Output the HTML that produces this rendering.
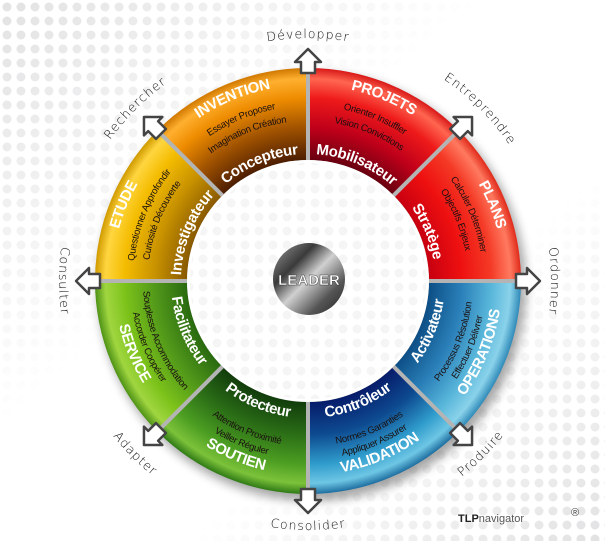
<!DOCTYPE html>
<html><head><meta charset="utf-8"><style>
html,body{margin:0;padding:0;background:#fff;width:605px;height:541px;overflow:hidden;}
svg{display:block;overflow:hidden;}
.t{font-family:"Liberation Sans Narrow","Liberation Sans",sans-serif;font-weight:bold;fill:#fff;letter-spacing:-0.4px;}
.s{font-family:"Liberation Sans Narrow","Liberation Sans",sans-serif;fill:#1a1010;font-size:9.6px;letter-spacing:-0.3px;}
.h{font-family:"DejaVu Sans","Liberation Sans",sans-serif;font-size:12.5px;fill:#111;letter-spacing:1px;font-weight:300;}
</style></head><body>
<svg width="605" height="541" viewBox="0 0 605 541" xmlns="http://www.w3.org/2000/svg">
<defs>
<clipPath id="frame"><rect width="605" height="541"/></clipPath>
<pattern id="dots" width="14" height="14" patternUnits="userSpaceOnUse"><circle cx="7" cy="7" r="4.5" fill="#d6d6d8"/></pattern>
<linearGradient id="fadeL" x1="0" y1="0" x2="1" y2="1"><stop offset="0" stop-color="#fff"/><stop offset="0.4" stop-color="#000"/><stop offset="0.65" stop-color="#000"/><stop offset="1" stop-color="#fff"/></linearGradient>
<mask id="bgm"><rect width="605" height="541" fill="url(#fadeL)"/></mask>
<radialGradient id="gProj" cx="308" cy="281" r="213" gradientUnits="userSpaceOnUse"><stop offset="0.57" stop-color="#6a0010"/><stop offset="0.72" stop-color="#c0001a"/><stop offset="0.86" stop-color="#ee1a1a"/><stop offset="0.95" stop-color="#ff6650"/><stop offset="1" stop-color="#d81818"/></radialGradient>
<radialGradient id="gPlan" cx="308" cy="281" r="213" gradientUnits="userSpaceOnUse"><stop offset="0.57" stop-color="#c80010"/><stop offset="0.72" stop-color="#ee1010"/><stop offset="0.86" stop-color="#f43a26"/><stop offset="0.95" stop-color="#ff7a60"/><stop offset="1" stop-color="#e02a1a"/></radialGradient>
<radialGradient id="gOper" cx="308" cy="281" r="213" gradientUnits="userSpaceOnUse"><stop offset="0.57" stop-color="#0d4f86"/><stop offset="0.72" stop-color="#2a7fb8"/><stop offset="0.86" stop-color="#58b6da"/><stop offset="0.95" stop-color="#8ad2ea"/><stop offset="1" stop-color="#2f8ab8"/></radialGradient>
<radialGradient id="gVal" cx="308" cy="281" r="213" gradientUnits="userSpaceOnUse"><stop offset="0.57" stop-color="#071c6a"/><stop offset="0.72" stop-color="#0d4a90"/><stop offset="0.86" stop-color="#2f9ccc"/><stop offset="0.95" stop-color="#6ec6e4"/><stop offset="1" stop-color="#1e6ea0"/></radialGradient>
<radialGradient id="gSout" cx="308" cy="281" r="213" gradientUnits="userSpaceOnUse"><stop offset="0.57" stop-color="#123d0c"/><stop offset="0.72" stop-color="#2a6d16"/><stop offset="0.86" stop-color="#4c9e22"/><stop offset="0.95" stop-color="#7cc23a"/><stop offset="1" stop-color="#2f7a16"/></radialGradient>
<radialGradient id="gServ" cx="308" cy="281" r="213" gradientUnits="userSpaceOnUse"><stop offset="0.57" stop-color="#2a6a10"/><stop offset="0.72" stop-color="#52991a"/><stop offset="0.86" stop-color="#7cc21a"/><stop offset="0.95" stop-color="#a0d640"/><stop offset="1" stop-color="#4e9216"/></radialGradient>
<radialGradient id="gEtu" cx="308" cy="281" r="213" gradientUnits="userSpaceOnUse"><stop offset="0.57" stop-color="#8a5a00"/><stop offset="0.72" stop-color="#c89200"/><stop offset="0.86" stop-color="#f4bc00"/><stop offset="0.95" stop-color="#ffd640"/><stop offset="1" stop-color="#d09a00"/></radialGradient>
<radialGradient id="gInv" cx="308" cy="281" r="213" gradientUnits="userSpaceOnUse"><stop offset="0.57" stop-color="#4e1e00"/><stop offset="0.72" stop-color="#a05200"/><stop offset="0.86" stop-color="#ee8c00"/><stop offset="0.95" stop-color="#ffb030"/><stop offset="1" stop-color="#d07800"/></radialGradient>
<linearGradient id="gLead" x1="0" y1="0" x2="1" y2="1"><stop offset="0" stop-color="#9a9a9a"/><stop offset="0.3" stop-color="#3a3a3a"/><stop offset="0.5" stop-color="#d0d0d0"/><stop offset="0.75" stop-color="#555"/><stop offset="1" stop-color="#222"/></linearGradient>
<filter id="sh" x="-20%" y="-20%" width="140%" height="140%"><feGaussianBlur stdDeviation="5"/></filter>
<path id="t196" d="M308,477 A196,196 0 1 1 308,85 A196,196 0 1 1 308,477"/>
<path id="t175" d="M308,456 A175,175 0 1 1 308,106 A175,175 0 1 1 308,456"/>
<path id="t160" d="M308,441 A160,160 0 1 1 308,121 A160,160 0 1 1 308,441"/>
<path id="t127" d="M308,408 A127,127 0 1 1 308,154 A127,127 0 1 1 308,408"/>
<path id="t243" d="M308,524 A243,243 0 1 1 308,38 A243,243 0 1 1 308,524"/>
<path id="b194" d="M308,87 A194,194 0 1 0 308,475 A194,194 0 1 0 308,87"/>
<path id="b178" d="M308,103 A178,178 0 1 0 308,459 A178,178 0 1 0 308,103"/>
<path id="b165" d="M308,116 A165,165 0 1 0 308,446 A165,165 0 1 0 308,116"/>
<path id="b137" d="M308,144 A137,137 0 1 0 308,418 A137,137 0 1 0 308,144"/>
<path id="b249" d="M308,32 A249,249 0 1 0 308,530 A249,249 0 1 0 308,32"/>
<path id="arr" d="M-7,5 L-7,-6 L-13,-6 L0,-19 L13,-6 L7,-6 L7,5 Z"/>
</defs>
<g clip-path="url(#frame)">
<rect width="605" height="541" fill="#fff"/>
<g mask="url(#bgm)" opacity="0.7">
<rect width="605" height="541" fill="url(#dots)"/>
</g>

<circle cx="312" cy="287" r="214" fill="#000" opacity="0.35" filter="url(#sh)"/>

<path d="M308,68 A213,213 0 0 1 458.6,130.4 L393.6,195.4 A121,121 0 0 0 308,160 Z" fill="url(#gProj)"/>
<path d="M458.6,130.4 A213,213 0 0 1 521,281 L429,281 A121,121 0 0 0 393.6,195.4 Z" fill="url(#gPlan)"/>
<path d="M521,281 A213,213 0 0 1 458.6,431.6 L393.6,366.6 A121,121 0 0 0 429,281 Z" fill="url(#gOper)"/>
<path d="M458.6,431.6 A213,213 0 0 1 308,494 L308,402 A121,121 0 0 0 393.6,366.6 Z" fill="url(#gVal)"/>
<path d="M308,494 A213,213 0 0 1 157.4,431.6 L222.4,366.6 A121,121 0 0 0 308,402 Z" fill="url(#gSout)"/>
<path d="M157.4,431.6 A213,213 0 0 1 95,281 L187,281 A121,121 0 0 0 222.4,366.6 Z" fill="url(#gServ)"/>
<path d="M95,281 A213,213 0 0 1 157.4,130.4 L222.4,195.4 A121,121 0 0 0 187,281 Z" fill="url(#gEtu)"/>
<path d="M157.4,130.4 A213,213 0 0 1 308,68 L308,160 A121,121 0 0 0 222.4,195.4 Z" fill="url(#gInv)"/>

<g stroke="#b4b4b4" stroke-width="4">
<line x1="308" y1="68" x2="308" y2="160"/><line x1="458.6" y1="130.4" x2="393.6" y2="195.4"/>
<line x1="521" y1="281" x2="429" y2="281"/><line x1="458.6" y1="431.6" x2="393.6" y2="366.6"/>
<line x1="308" y1="494" x2="308" y2="402"/><line x1="157.4" y1="431.6" x2="222.4" y2="366.6"/>
<line x1="95" y1="281" x2="187" y2="281"/><line x1="157.4" y1="130.4" x2="222.4" y2="195.4"/>
</g>

<circle cx="308" cy="281" r="121" fill="#fff"/>
<circle cx="308" cy="281" r="118" fill="url(#dots)" opacity="0.25"/>

<circle cx="309" cy="279" r="36" fill="url(#gLead)"/>
<text x="309" y="285" text-anchor="middle" font-family="Liberation Sans Narrow,Liberation Sans,sans-serif" font-size="15" font-weight="bold" fill="#fff" stroke="#333" stroke-width="0.4">LEADER</text>

<g class="t" font-size="15">
<text><textPath href="#t196" startOffset="43.75%" text-anchor="middle">INVENTION</textPath></text>
<text><textPath href="#t196" startOffset="56.25%" text-anchor="middle">PROJETS</textPath></text>
<text><textPath href="#t196" startOffset="68.75%" text-anchor="middle">PLANS</textPath></text>
<text><textPath href="#t196" startOffset="31.25%" text-anchor="middle">ETUDE</textPath></text>
<text><textPath href="#t127" startOffset="43.75%" text-anchor="middle">Concepteur</textPath></text>
<text><textPath href="#t127" startOffset="56.25%" text-anchor="middle">Mobilisateur</textPath></text>
<text><textPath href="#t127" startOffset="68.75%" text-anchor="middle">Stratège</textPath></text>
<text><textPath href="#t127" startOffset="31.25%" text-anchor="middle">Investigateur</textPath></text>
<text><textPath href="#b194" startOffset="68.75%" text-anchor="middle">OPERATIONS</textPath></text>
<text><textPath href="#b194" startOffset="56.25%" text-anchor="middle">VALIDATION</textPath></text>
<text><textPath href="#b194" startOffset="43.75%" text-anchor="middle">SOUTIEN</textPath></text>
<text><textPath href="#b194" startOffset="31.25%" text-anchor="middle">SERVICE</textPath></text>
<text><textPath href="#b137" startOffset="68.75%" text-anchor="middle">Activateur</textPath></text>
<text><textPath href="#b137" startOffset="56.25%" text-anchor="middle">Contrôleur</textPath></text>
<text><textPath href="#b137" startOffset="43.75%" text-anchor="middle">Protecteur</textPath></text>
<text><textPath href="#b137" startOffset="31.25%" text-anchor="middle">Facilitateur</textPath></text>
</g>

<g class="s">
<text><textPath href="#t175" startOffset="43.75%" text-anchor="middle">Essayer Proposer</textPath></text>
<text><textPath href="#t160" startOffset="43.75%" text-anchor="middle">Imagination Création</textPath></text>
<text><textPath href="#t175" startOffset="56.25%" text-anchor="middle">Orienter Insuffler</textPath></text>
<text><textPath href="#t160" startOffset="56.25%" text-anchor="middle">Vision Convictions</textPath></text>
<text><textPath href="#t175" startOffset="68.75%" text-anchor="middle">Calculer Déterminer</textPath></text>
<text><textPath href="#t160" startOffset="68.75%" text-anchor="middle">Objectifs Enjeux</textPath></text>
<text><textPath href="#t175" startOffset="31.25%" text-anchor="middle">Questionner Approfondir</textPath></text>
<text><textPath href="#t160" startOffset="31.25%" text-anchor="middle">Curiosité Découverte</textPath></text>
<text><textPath href="#b165" startOffset="68.75%" text-anchor="middle">Processus Résolution</textPath></text>
<text><textPath href="#b178" startOffset="68.75%" text-anchor="middle">Effectuer Délivrer</textPath></text>
<text><textPath href="#b165" startOffset="56.25%" text-anchor="middle">Normes Garanties</textPath></text>
<text><textPath href="#b178" startOffset="56.25%" text-anchor="middle">Appliquer Assurer</textPath></text>
<text><textPath href="#b165" startOffset="43.75%" text-anchor="middle">Attention Proximité</textPath></text>
<text><textPath href="#b178" startOffset="43.75%" text-anchor="middle">Veiller Réguler</textPath></text>
<text><textPath href="#b165" startOffset="31.25%" text-anchor="middle">Souplesse Accommodation</textPath></text>
<text><textPath href="#b178" startOffset="31.25%" text-anchor="middle">Accorder Coopérer</textPath></text>
</g>

<g fill="#fff" stroke="#444" stroke-width="2.5" stroke-linejoin="round">
<use href="#arr" transform="translate(308,68) rotate(0)"/>
<use href="#arr" transform="translate(458.6,130.4) rotate(45)"/>
<use href="#arr" transform="translate(521,281) rotate(90)"/>
<use href="#arr" transform="translate(458.6,431.6) rotate(135)"/>
<use href="#arr" transform="translate(308,494) rotate(180)"/>
<use href="#arr" transform="translate(157.4,431.6) rotate(225)"/>
<use href="#arr" transform="translate(95,281) rotate(270)"/>
<use href="#arr" transform="translate(157.4,130.4) rotate(315)"/>
</g>

<g class="h">
<text><textPath href="#t243" startOffset="50%" text-anchor="middle">Développer</textPath></text>
<text><textPath href="#t243" startOffset="62.5%" text-anchor="middle">Entreprendre</textPath></text>
<text><textPath href="#t243" startOffset="75%" text-anchor="middle">Ordonner</textPath></text>
<text><textPath href="#t243" startOffset="37.5%" text-anchor="middle">Rechercher</textPath></text>
<text><textPath href="#b249" startOffset="62.5%" text-anchor="middle">Produire</textPath></text>
<text><textPath href="#b249" startOffset="50%" text-anchor="middle">Consolider</textPath></text>
<text><textPath href="#b249" startOffset="37.5%" text-anchor="middle">Adapter</textPath></text>
<text><textPath href="#b249" startOffset="25%" text-anchor="middle">Consulter</textPath></text>
</g>

<text x="458" y="522" font-family="Liberation Sans,sans-serif" font-size="11" fill="#222"><tspan font-weight="bold">TLP</tspan><tspan fill="#555">navigator</tspan></text>
<text x="571" y="516" font-family="Liberation Sans,sans-serif" font-size="11" fill="#444">®</text>
</g>
</svg>
</body></html>
